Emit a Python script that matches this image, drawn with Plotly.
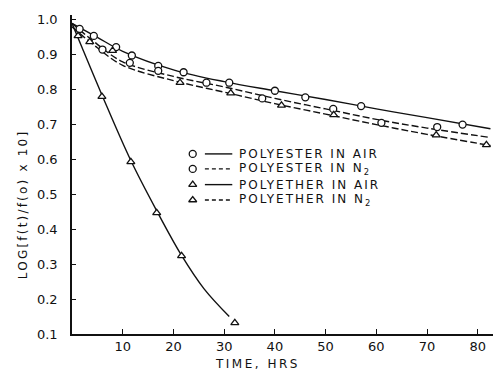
import plotly.graph_objects as go

# ---- measured points ----
polyester_air_t = [1.5, 4.3, 8.7, 11.8, 17, 22, 31, 40, 46, 57, 77]
polyester_air_v = [0.974, 0.954, 0.922, 0.898, 0.868, 0.850, 0.820, 0.797, 0.778, 0.753, 0.700]

polyester_n2_t = [6, 11.4, 17, 26.5, 37.5, 51.5, 61, 72]
polyester_n2_v = [0.915, 0.877, 0.854, 0.820, 0.775, 0.745, 0.705, 0.693]

polyether_air_t = [1.2, 5.9, 11.6, 16.7, 21.6, 32.1]
polyether_air_v = [0.954, 0.780, 0.593, 0.447, 0.324, 0.132]

polyether_n2_t = [3.5, 8, 21.3, 31.3, 41.3, 51.6, 71.8, 81.7]
polyether_n2_v = [0.937, 0.912, 0.820, 0.790, 0.755, 0.728, 0.670, 0.642]

# ---- fitted curves ----
curve_t = [0, 5, 10, 20, 30, 40, 50, 60, 70, 82.5]
polyester_air_curve = [0.99, 0.95, 0.91, 0.857, 0.823, 0.797, 0.772, 0.745, 0.720, 0.688]
polyester_n2_curve = [0.99, 0.93, 0.88, 0.838, 0.808, 0.775, 0.745, 0.715, 0.690, 0.663]
polyether_n2_curve = [0.98, 0.92, 0.87, 0.826, 0.793, 0.760, 0.730, 0.700, 0.672, 0.640]
polyether_air_curve_t = [0, 2, 5.9, 11.6, 16.7, 21.6, 26, 31]
polyether_air_curve = [0.99, 0.92, 0.785, 0.597, 0.453, 0.325, 0.23, 0.15]

# ---- axis ticks ----
x_ticks = [10, 20, 30, 40, 50, 60, 70, 80]
y_ticks = [0.1, 0.2, 0.3, 0.4, 0.5, 0.6, 0.7, 0.8, 0.9, 1.0]
y_tick_text = ["0.1", "0.2", "0.3", "0.4", "0.5", "0.6", "0.7", "0.8", "0.9", "1.0"]

legend_labels = ["POLYESTER IN AIR", "POLYESTER IN N<sub>2</sub>",
                 "POLYETHER IN AIR", "POLYETHER IN N<sub>2</sub>"]

INK = "#111111"
FONT = "DejaVu Sans"


def spaced(text, px):
    return f'<span style="letter-spacing:{px}px">{text}</span>'


fig = go.Figure()

def curve(t, v, dash):
    fig.add_trace(go.Scatter(x=t, y=v, mode="lines", line_shape="spline",
                             line=dict(color=INK, width=1.4, dash=dash),
                             showlegend=False, hoverinfo="skip"))

def points(t, v, symbol):
    fig.add_trace(go.Scatter(x=t, y=v, mode="markers",
                             marker=dict(symbol=symbol, size=7, color="white",
                                         line=dict(color=INK, width=1.3)),
                             showlegend=False))

curve(curve_t, polyester_air_curve, "solid")
curve(curve_t, polyester_n2_curve, "7px,3px")
curve(curve_t, polyether_n2_curve, "7px,3px")
curve(polyether_air_curve_t, polyether_air_curve, "solid")

points(polyester_air_t, polyester_air_v, "circle")
points(polyester_n2_t, polyester_n2_v, "circle")
points(polyether_air_t, polyether_air_v, "triangle-up")
points(polyether_n2_t, polyether_n2_v, "triangle-up")

# ---- key ----
key_y = [0.616, 0.573, 0.528, 0.484]
key_sym = ["circle", "circle", "triangle-up", "triangle-up"]
key_dash = ["solid", "4px,3px", "solid", "4px,3px"]
for y, s, d, lab in zip(key_y, key_sym, key_dash, legend_labels):
    fig.add_trace(go.Scatter(x=[23.8], y=[y], mode="markers",
                             marker=dict(symbol=s, size=7, color="white",
                                         line=dict(color=INK, width=1.3)),
                             showlegend=False, hoverinfo="skip"))
    fig.add_shape(type="line", x0=26.2, x1=31.6, y0=y, y1=y,
                  line=dict(color=INK, width=1.4, dash=d))
    fig.add_annotation(x=32.6, y=y, text=spaced(lab, 2), showarrow=False,
                       xanchor="left", yanchor="middle",
                       font=dict(family=FONT, size=12, color=INK))

fig.add_annotation(xref="paper", yref="paper", x=0.44, y=-0.094,
                   text=spaced("TIME, HRS", 2.5),
                   showarrow=False, xanchor="center", yanchor="middle",
                   font=dict(family=FONT, size=12, color=INK))
fig.add_annotation(xref="paper", yref="paper", x=-0.118, y=0.405,
                   text=spaced("LOG[f(t)/f(o) x 10]", 2.2), textangle=-90,
                   showarrow=False, xanchor="center", yanchor="middle",
                   font=dict(family=FONT, size=12, color=INK))

fig.update_xaxes(range=[0, 83], tickvals=x_ticks, ticks="inside", ticklen=5,
                 tickcolor=INK, showline=True, linecolor=INK, linewidth=1.5,
                 showgrid=False, zeroline=False,
                 tickfont=dict(family=FONT, size=13, color=INK))
fig.update_yaxes(range=[0.1, 1.014], tickvals=y_ticks, ticktext=y_tick_text,
                 ticks="inside", ticklen=4, tickcolor=INK, showline=True,
                 linecolor=INK, linewidth=1.5, showgrid=False, zeroline=False,
                 ticklabelstandoff=10,
                 tickfont=dict(family=FONT, size=13, color=INK))

fig.update_layout(width=496, height=373, margin=dict(l=72, r=3, t=15, b=39),
                  plot_bgcolor="white", paper_bgcolor="white", showlegend=False)

fig.write_html("out.html")
